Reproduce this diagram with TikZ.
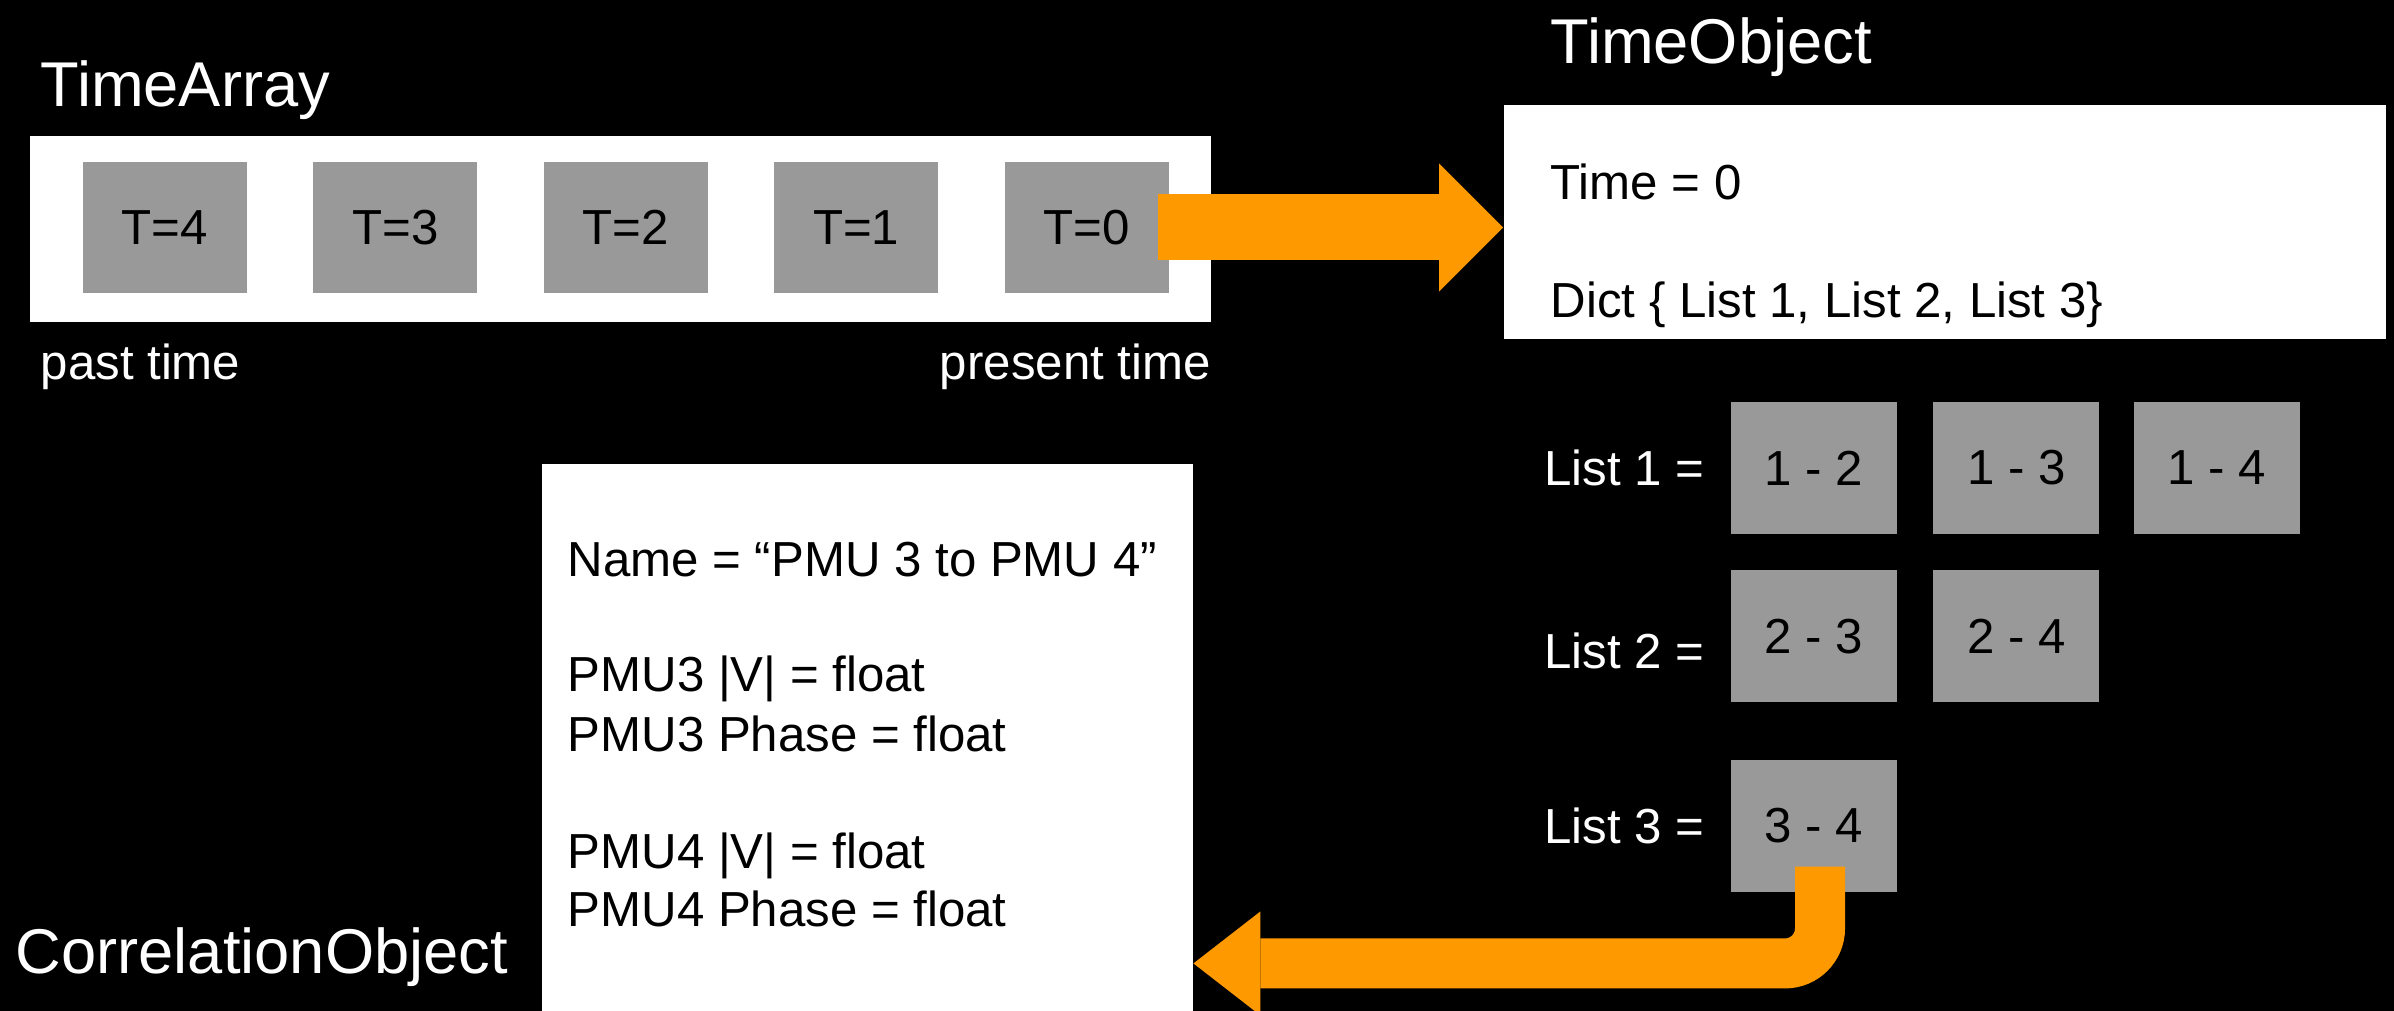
\documentclass[tikz,border=0pt]{standalone}
\usepackage{fontspec}
\setmainfont{Liberation Sans}
\usetikzlibrary{arrows.meta, positioning}
\definecolor{cellgray}{HTML}{999999}
\definecolor{arroworange}{HTML}{FF9900}
\newlength{\cellwidth}
\setlength{\cellwidth}{1.64cm}
\newlength{\cellheight}
\setlength{\cellheight}{1.31cm}
\tikzstyle{whitebox} = [rectangle, fill=white, inner sep=0pt]
\tikzstyle{cell} = [rectangle, fill=cellgray, minimum width=\cellwidth, minimum height=\cellheight, inner sep=0pt, font=\fontsize{14}{16.65}\selectfont]
\tikzstyle{listcell} = [cell, minimum width=1.66cm, minimum height=1.32cm]
\tikzstyle{title} = [text=white, inner sep=0pt, font=\fontsize{18}{21.6}\selectfont]
\tikzstyle{note} = [text=white, inner sep=0pt, font=\fontsize{14}{16.65}\selectfont]
\tikzstyle{boxtext} = [text=black, inner sep=0pt, anchor=base west, font=\fontsize{14}{16.65}\selectfont]
\tikzstyle{fatarrow} = [arroworange, line width=0.66cm, -{Triangle[length=0.64cm, width=1.28cm, line width=0pt]}]
\tikzstyle{backarrow} = [arroworange, line width=0.50cm, rounded corners=0.35cm, -{Triangle[length=0.67cm, width=1.04cm, line width=0pt]}]

\begin{document}
\begin{tikzpicture}

    % Background
    \clip (0,0) rectangle (23.94,-10.11);
    \fill [black] (0,0) rectangle (23.94,-10.11);

    % TimeArray
    \node (tarray) [whitebox, minimum width=11.81cm, minimum height=1.86cm, anchor=north west] at (0.29,-1.35) {};
    \node (tarray_label) [title, anchor=base west] at (0.40,-1.07) {TimeArray};
    \node (t4) [cell] at (1.65,-2.275) {T=4};
    \node (t3) [cell, right=0.65cm of t4] {T=3};
    \node (t2) [cell, right=0.65cm of t3] {T=2};
    \node (t1) [cell, right=0.65cm of t2] {T=1};
    \node (t0) [cell, right=0.65cm of t1] {T=0};
    \node (past) [note, anchor=base west] at (0.40,-3.80) {past time};
    \node (present) [note, anchor=base east] at (past.base -| tarray.east) {present time};

    % TimeObject
    \node (tobj) [whitebox, minimum width=8.82cm, minimum height=2.34cm, anchor=north west] at (15.03,-1.04) {};
    \node (tobj_label) [title, anchor=base west] at (15.50,-0.64) {TimeObject};
    \node (tobj_time) [boxtext] at (15.50,-2.00) {Time = 0};
    \node (tobj_dict) [boxtext] at (15.50,-3.18) {Dict \{ List 1, List 2, List 3\}};

    % Lists
    \node (l12) [listcell] at (18.14,-4.68) {1 - 2};
    \node (l13) [listcell, right=0.35cm of l12] {1 - 3};
    \node (l14) [listcell, right=0.33cm of l13] {1 - 4};
    \node (l23) [listcell, below=0.35cm of l12] {2 - 3};
    \node (l24) [listcell, right=0.35cm of l23] {2 - 4};
    \node (l34) [listcell, below=0.56cm of l23] {3 - 4};
    \node (list1) [note, left=0.25cm of l12] {List 1 =};
    \node (list2) [note, left=0.25cm of l23, yshift=-0.15cm] {List 2 =};
    \node (list3) [note, left=0.25cm of l34] {List 3 =};

    % CorrelationObject
    \node (corr) [whitebox, minimum width=6.51cm, minimum height=6.0cm, anchor=north west] at (5.41,-4.63) {};
    \node (corr_name) [boxtext] at (5.67,-5.77) {Name = “PMU 3 to PMU 4”};
    \node (corr_v3) [boxtext] at (5.67,-6.91) {PMU3 |V| = float};
    \node (corr_ph3) [boxtext] at (5.67,-7.51) {PMU3 Phase = float};
    \node (corr_v4) [boxtext] at (5.67,-8.68) {PMU4 |V| = float};
    \node (corr_ph4) [boxtext] at (5.67,-9.26) {PMU4 Phase = float};
    \node (corr_label) [title, anchor=base west] at (0.15,-9.73) {CorrelationObject};

    % ==== Arrows
    \draw [fatarrow] ([xshift=-0.11cm]t0.east) -- (t0.east -| tobj.west);
    \draw [backarrow] ([xshift=0.06cm, yshift=0.26cm]l34.south) |- ([yshift=1.01cm]corr.south east);

\end{tikzpicture}
\end{document}
